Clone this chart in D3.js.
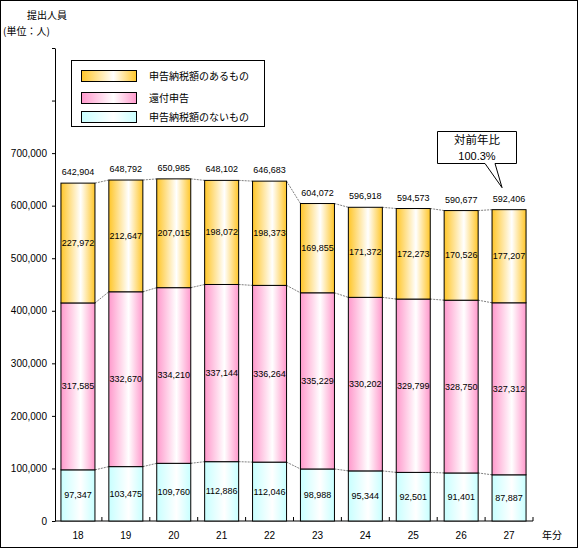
<!DOCTYPE html>
<html><head><meta charset="utf-8">
<script src="https://cdn.jsdelivr.net/npm/d3@7"></script>
<style>body{margin:0;background:#fff}svg{display:block}text{font-family:"Noto Sans CJK JP","DejaVu Sans",sans-serif}text.num{font-family:"Liberation Sans",Arial,sans-serif}</style>
</head><body>
<script>
const years = ["18","19","20","21","22","23","24","25","26","27"];
const noTax = [97347,103475,109760,112886,112046,98988,95344,92501,91401,87887];
const refund = [317585,332670,334210,337144,336264,335229,330202,329799,328750,327312];
const withTax = [227972,212647,207015,198072,198373,169855,171372,172273,170526,177207];
const totals = [642904,648792,650985,648102,646683,604072,596918,594573,590677,592406];
const yTicks = [0,100000,200000,300000,400000,500000,600000,700000,800000,900000];
const yTickLabels = ["0","100,000","200,000","300,000","400,000","500,000","600,000","700,000","",""];
const seriesNames = ["申告納税額のあるもの","還付申告","申告納税額のないもの"];
const seriesColors = ["#FFC629","#FF99CC","#C8FFFF"];

const W=580,H=550;
const svg=d3.select("body").append("svg").attr("width",W).attr("height",H);
const defs=svg.append("defs");
seriesColors.forEach((c,i)=>{
  const g=defs.append("linearGradient").attr("id","g"+i).attr("x1","0").attr("x2","1").attr("y1","0").attr("y2","0");
  g.append("stop").attr("offset","0%").attr("stop-color",c);
  g.append("stop").attr("offset","58%").attr("stop-color","#fff");
  g.append("stop").attr("offset","100%").attr("stop-color",c);
});
svg.append("rect").attr("x",0.5).attr("y",0.5).attr("width",577).attr("height",547).attr("fill","#fff").attr("stroke","#000");

const x=d3.scaleBand().domain(years).range([54,533]).paddingInner(0.29).paddingOuter(0.145);
const y=d3.scaleLinear().domain([0,900000]).range([521,48]);

// y axis
const ya=svg.append("g").attr("transform","translate(55,0)")
  .call(d3.axisLeft(y).tickValues(yTicks).tickFormat((d,i)=>yTickLabels[i]).tickSize(3).tickSizeOuter(0));
ya.select(".domain").attr("stroke","#000");
ya.selectAll("text").attr("class","num").attr("font-size",10).attr("fill","#000").attr("x",-8);
// x axis
const xa=svg.append("g").attr("transform","translate(0,521)");
xa.append("line").attr("x1",55).attr("x2",533).attr("stroke","#000");
const step=x.step();
years.forEach((d,i)=>{
  const bx=x.range()[0]+step*(i+1);
  xa.append("line").attr("x1",bx).attr("x2",bx).attr("y1",0).attr("y2",-4).attr("stroke","#000");
  xa.append("text").attr("class","num").attr("x",x(d)+x.bandwidth()/2).attr("y",18).attr("text-anchor","middle").attr("font-size",10).text(d);
});
svg.append("text").attr("x",542).attr("y",539).attr("font-size",10).text("年分");

// stacks
const stackData=years.map((d,i)=>({y:d,a:noTax[i],b:refund[i],c:withTax[i]}));
const stack=d3.stack().keys(["a","b","c"])(stackData);
const fills={a:"url(#g2)",b:"url(#g1)",c:"url(#g0)"};

// connectors
stack.forEach(s=>{
  for(let i=0;i<years.length-1;i++){
    svg.append("line").attr("x1",x(years[i])+x.bandwidth()).attr("x2",x(years[i+1]))
      .attr("y1",y(s[i][1])).attr("y2",y(s[i+1][1]))
      .attr("stroke","#808080").attr("stroke-dasharray","2,1");
  }
});

stack.forEach(s=>{
  const g=svg.append("g");
  g.selectAll("rect").data(s).join("rect")
    .attr("x",d=>x(d.data.y)).attr("width",x.bandwidth())
    .attr("y",d=>y(d[1])).attr("height",d=>y(d[0])-y(d[1]))
    .attr("fill",fills[s.key]).attr("stroke","#000").attr("stroke-width",1);
  g.selectAll("text").data(s).join("text").attr("class","num")
    .attr("x",d=>x(d.data.y)+x.bandwidth()/2).attr("y",d=>(y(d[0])+y(d[1]))/2+3)
    .attr("text-anchor","middle").attr("font-size",9)
    .text(d=>d3.format(",")(d.data[s.key]));
});
svg.selectAll(".tot").data(totals).join("text").attr("class","num")
  .attr("x",(d,i)=>x(years[i])+x.bandwidth()/2).attr("y",d=>y(d)-8)
  .attr("text-anchor","middle").attr("font-size",9).text(d=>d3.format(",")(d));

// titles
svg.append("text").attr("x",27).attr("y",19).attr("font-size",10).text("提出人員");
svg.append("text").attr("x",3).attr("y",35).attr("font-size",10).text("(単位：人)");

// legend
const lg=svg.append("g");
lg.append("rect").attr("x",71.5).attr("y",60.5).attr("width",193).attr("height",66).attr("fill","#fff").attr("stroke","#000");
const lgY=[70,92,111];
seriesNames.forEach((n,i)=>{
  lg.append("rect").attr("x",81.5).attr("y",lgY[i]+0.5).attr("width",55).attr("height",11).attr("fill","url(#g"+i+")").attr("stroke","#000");
  lg.append("text").attr("x",149).attr("y",lgY[i]+9.5).attr("font-size",10).text(n);
});

// callout
const cx0=437.5,cx1=516.5,cy0=131.5,cy1=163.5;
const tipX=x("27")+x.bandwidth()/2-7, tipY=y(totals[9])-22;
svg.append("path").attr("d",`M${cx0},${cy0}H${cx1}V${cy1}H495L${tipX},${tipY}L485,${cy1}H${cx0}Z`)
  .attr("fill","#fff").attr("stroke","#000");
svg.append("text").attr("x",(cx0+cx1)/2).attr("y",143.5).attr("text-anchor","middle").attr("font-size",11.5).text("対前年比");
svg.append("text").attr("class","num").attr("x",(cx0+cx1)/2).attr("y",160).attr("text-anchor","middle").attr("font-size",11).text("100.3%");
</script>
</body></html>
